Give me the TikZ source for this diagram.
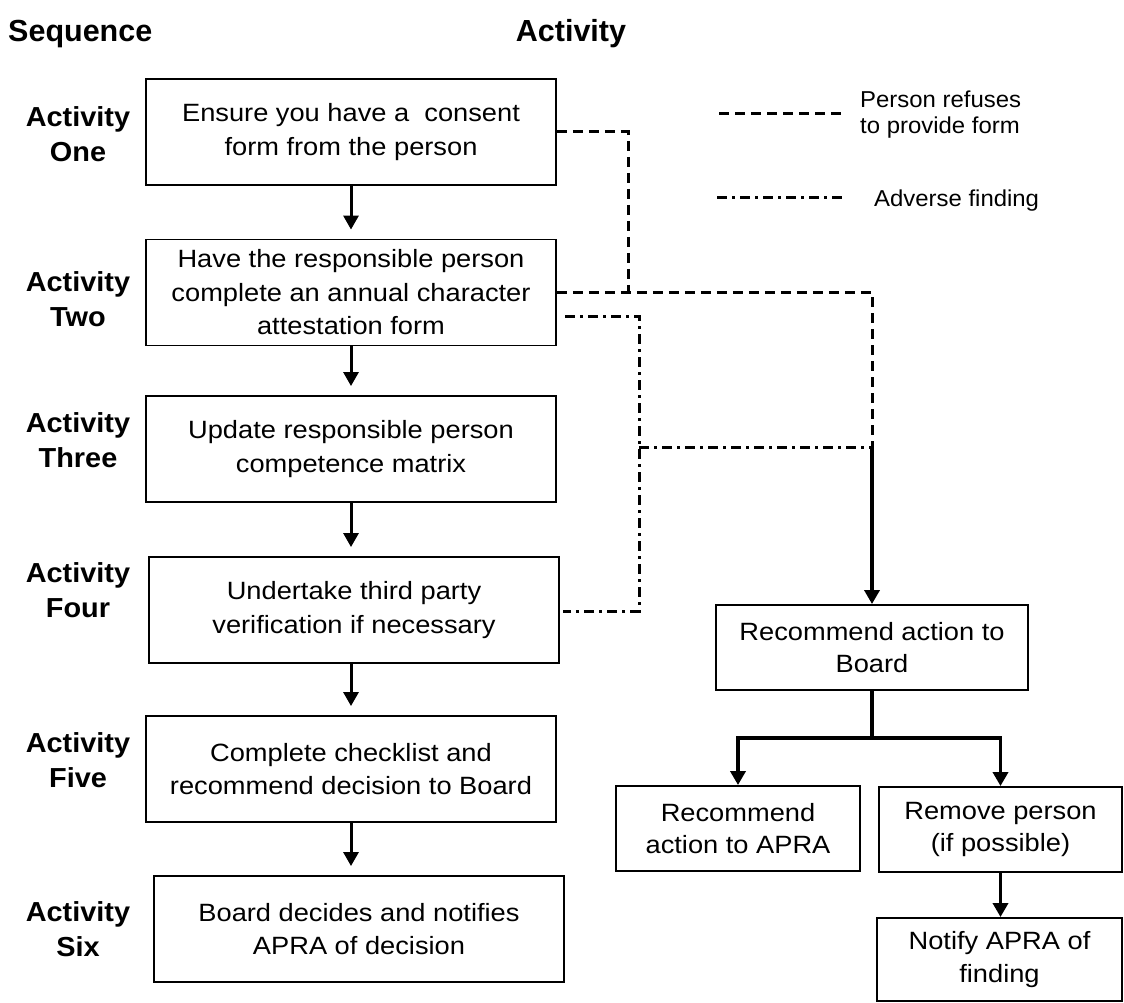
\documentclass[tikz,border=0pt]{standalone}
\usepackage{fontspec}
\setmainfont{Liberation Sans}[FakeStretch=1.09]
\newfontfamily\legfont{Liberation Sans}[FakeStretch=1.04]
\newfontfamily\boldfont{Liberation Sans}[FakeStretch=1.05]
\newfontfamily\hdrfont{Liberation Sans}[FakeStretch=1.0]
\usetikzlibrary{arrows.meta,calc}
\begin{document}
\begin{tikzpicture}[x=1pt,y=-1pt,
  box/.style={draw,line width=1.9pt,minimum width=410pt,minimum height=106pt,inner sep=0pt,align=center,font=\fontsize{25}{33.5}\selectfont},
  rbox/.style={draw,line width=1.9pt,inner sep=0pt,align=center,minimum height=85pt,font=\fontsize{25}{32.5}\selectfont},
  lab/.style={align=center,inner sep=0pt,font=\boldfont\bfseries\fontsize{27.5}{35}\selectfont},
  hdr/.style={inner sep=0pt,font=\hdrfont\bfseries\fontsize{30.5}{36}\selectfont},
  leg/.style={inner sep=0pt,align=left,font=\legfont\fontsize{23}{26}\selectfont},
  arr/.style={line width=3pt,-{Triangle[width=15pt,length=14pt]}},
  rarr/.style={line width=3.5pt,-{Triangle[width=15pt,length=14pt]}},
  refuse/.style={line width=3pt,dash pattern=on 10pt off 6pt},
  adverse/.style={line width=3pt,dash pattern=on 10pt off 5pt on 3pt off 5pt},
]
\useasboundingbox (0,0) rectangle (1124,1003);

% headers
\node[hdr,anchor=base west] (hseq) at (8,42) {Sequence};
\node[hdr,anchor=base] (hact) at (571,42) {Activity};

% left column boxes
\node[box] (b1) at (351,132) {Ensure you have a\ \ consent\\form from the person};
\node[box] (b2) at (351,292.5) {Have the responsible person\\complete an annual character\\attestation form};
\node[box] (b3) at (351,449) {Update responsible person\\competence matrix};
\node[box] (b4) at (354,610) {Undertake third party\\verification if necessary};
\node[box] (b5) at (351,769) {Complete checklist and\\recommend decision to Board};
\node[box] (b6) at (359,929) {Board decides and notifies\\APRA of decision};

% sequence labels
\node[lab] (l1) at (78,134.5) {Activity\\One};
\node[lab] (l2) at (78,299.5) {Activity\\Two};
\node[lab] (l3) at (78,440.5) {Activity\\Three};
\node[lab] (l4) at (78,590) {Activity\\Four};
\node[lab] (l5) at (78,760.5) {Activity\\Five};
\node[lab] (l6) at (78,929.5) {Activity\\Six};

% left arrows
\draw[arr] (b1.south) -- ($(b1.south |- b2.north)+(0,-9)$);
\draw[arr] (b2.south) -- ($(b2.south |- b3.north)+(0,-9)$);
\draw[arr] (b3.south) -- ($(b3.south |- b4.north)+(0,-9)$);
\draw[arr] (b4.south -| b3.south) -- ($(b3.south |- b5.north)+(0,-9)$);
\draw[arr] (b5.south) -- ($(b5.south |- b6.north)+(0,-9)$);

% legend
\coordinate (lr1) at (719,114);
\coordinate (lr2) at (847,114);
\draw[refuse] (lr1) -- (lr2);
\node[leg,anchor=west] (lt1) at (860,115) {Person refuses\\to provide form};
\coordinate (la1) at (717,198);
\coordinate (la2) at (845,198);
\draw[adverse] (la1) -- (la2);
\node[leg,anchor=west] (lt2) at (874,200.4) {Adverse finding};

% right boxes
\node[rbox,minimum width=312pt] (r1) at (872,647.5) {Recommend action to\\Board};
\node[rbox,minimum width=244pt] (r2) at (738,828.5) {Recommend\\action to APRA};
\node[rbox,minimum width=243pt] (r3) at (1000.5,829.5) {Remove person\\(if possible)};
\node[rbox,minimum width=245pt,minimum height=83pt] (r4) at (999.5,959.5) {Notify APRA of\\finding};

% connector coordinates
\coordinate (jr) at (628,292.5);
\coordinate (jx) at (872,292.5);
\coordinate (jm) at (872,447);
\coordinate (a1) at (565,316);
\coordinate (a2) at (639,316);
\coordinate (a5) at (639,447);
\coordinate (a3) at (639,611);
\coordinate (a4) at (563,611);

% person refuses (dashed)
\draw[refuse] (b1.east) -| (jr);
\draw[refuse] (b2.east) -- (jx) -- (jm);

% adverse finding (dash-dot)
\draw[adverse] (a1) -- (a2) -- (a3) -- (a4);
\draw[adverse] (a5) -- (jm);

% solid to recommend action
\draw[rarr] (jm) -- (jm |- r1.north);

% branch
\coordinate (bj) at ($(r1.south)+(0,47)$);
\draw[line width=3.5pt] (r1.south) -- (bj);
\draw[rarr] (bj) -| (r2.north);
\draw[rarr] (bj) -| (r3.north);
\draw[rarr] (r3.south) -- (r3.south |- r4.north);
\end{tikzpicture}
\end{document}
